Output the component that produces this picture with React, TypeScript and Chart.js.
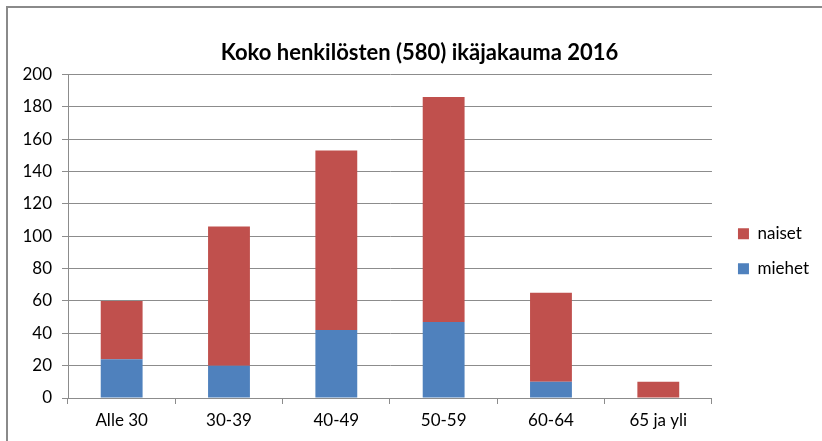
import React, { useEffect, useRef } from "react";
import { Chart, registerables } from "chart.js";

Chart.register(...registerables);

const categories = ["Alle 30", "30-39", "40-49", "50-59", "60-64", "65 ja yli"];
const miehet = [24, 20, 42, 47, 10, 0];
const naiset = [36, 86, 111, 139, 55, 10];
const titleText = "Koko henkilösten (580) ikäjakauma 2016";

const FONT = "Lato, 'Open Sans', sans-serif";
const GRID = "#8c8c8c";

const boxShift = {
  id: "boxShift",
  afterLayout(chart: any) {
    const l = chart.legend;
    if (l) {
      l.left += 8;
      l.right += 8;
      l.top += 15;
      l.bottom += 15;
    }
    const t = chart.titleBlock;
    if (t) {
      t.left += 14;
      t.right += 14;
    }
  },
};

export default function App() {
  const ref = useRef<HTMLCanvasElement | null>(null);

  useEffect(() => {
    if (!ref.current) return;
    const chart = new Chart(ref.current, {
      type: "bar",
      data: {
        labels: categories,
        datasets: [
          {
            label: "miehet",
            data: miehet,
            backgroundColor: "#4F81BD",
            borderWidth: 0,
            categoryPercentage: 1,
            barPercentage: 0.39,
          },
          {
            label: "naiset",
            data: naiset,
            backgroundColor: "#C0504D",
            borderWidth: 0,
            categoryPercentage: 1,
            barPercentage: 0.39,
          },
        ],
      },
      options: {
        responsive: false,
        animation: false,
        layout: { padding: { top: 40, right: 11, bottom: 0, left: 0 } },
        plugins: {
          title: {
            display: true,
            text: titleText,
            color: "#000",
            font: { family: FONT, size: 22, weight: "bold" },
            padding: { top: 0, bottom: 8 },
          },
          legend: {
            position: "right",
            reverse: true,
            fullSize: false,
            labels: {
              boxWidth: 11,
              boxHeight: 11,
              padding: 18,
              color: "#000",
              font: { family: FONT, size: 17 },
            },
          },
          tooltip: { enabled: false },
        },
        scales: {
          x: {
            stacked: true,
            grid: {
              offset: true,
              drawOnChartArea: false,
              tickLength: 6,
              color: GRID,
            },
            border: { color: GRID, width: 1 },
            ticks: { color: "#000", padding: 6, font: { family: FONT, size: 17 } },
            afterFit: (s: any) => {
              s.height = 43;
            },
          },
          y: {
            stacked: true,
            min: 0,
            max: 200,
            ticks: { stepSize: 20, color: "#000", padding: 10, font: { family: FONT, size: 17 } },
            grid: { color: GRID, tickLength: 6 },
            border: { color: GRID, width: 1 },
            afterFit: (s: any) => {
              s.width = 68;
            },
          },
        },
      },
      plugins: [boxShift],
    });
    return () => chart.destroy();
  }, []);

  return (
    <div style={{ position: "absolute", left: 0, top: 0, width: 822, height: 441, overflow: "hidden", background: "#fff" }}>
      <div style={{ position: "absolute", left: 6, top: 6, width: 816, height: 2, background: "#8a8a8a" }} />
      <div style={{ position: "absolute", left: 6, top: 6, width: 2, height: 435, background: "#8a8a8a" }} />
      <canvas ref={ref} width={822} height={441} style={{ position: "absolute", left: 0, top: 0 }} />
    </div>
  );
}
